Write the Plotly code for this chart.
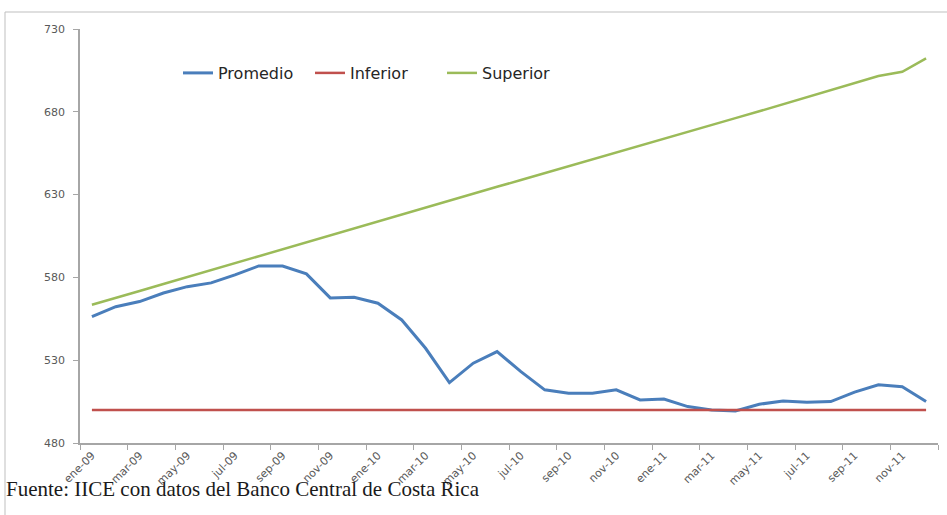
import plotly.graph_objects as go

# Months ene-09 .. dic-11
meses = ["ene", "feb", "mar", "abr", "may", "jun", "jul", "ago", "sep", "oct", "nov", "dic"]
anios = ["09", "10", "11"]
categorias = [f"{m}-{a}" for a in anios for m in meses]

promedio = [556.3, 562.3, 565.4, 570.6, 574.4, 576.7, 581.5, 586.9, 586.9, 582.1,
            567.6, 568.0, 564.4, 554.3, 537.2, 516.5, 528.2, 535.2, 523.1, 512.1,
            510.1, 510.0, 512.1, 506.0, 506.6, 502.0, 500.0, 499.4, 503.4, 505.4,
            504.6, 505.0, 510.7, 515.1, 514.0, 505.0]
inferior = [500.0] * 36
superior = [563.5, 567.5, 571.8, 576.0, 580.2, 584.5, 588.8, 593.0, 597.3, 601.4,
            605.6, 609.8, 613.9, 618.0, 622.2, 626.3, 630.5, 634.7, 638.8, 643.0,
            647.1, 651.3, 655.4, 659.6, 663.7, 667.9, 672.0, 676.2, 680.3, 684.5,
            688.7, 692.9, 697.3, 701.6, 704.2, 712.3]

y_ticks = [480, 530, 580, 630, 680, 730]

x = list(range(len(categorias)))
label_idx = x[::2]
label_txt = [categorias[i] for i in label_idx]

fig = go.Figure()
fig.add_trace(go.Scatter(x=x, y=promedio, name="Promedio", mode="lines",
                         line=dict(color="#4A7EBB", width=3)))
fig.add_trace(go.Scatter(x=x, y=inferior, name="Inferior", mode="lines",
                         line=dict(color="#C0504D", width=2.5)))
fig.add_trace(go.Scatter(x=x, y=superior, name="Superior", mode="lines",
                         line=dict(color="#9BBB59", width=2.5)))

W, H = 947, 515
L, R, T, B = 80, 9, 29, 72
pw, ph = W - L - R, H - T - B

def px_x(p):
    return (p - L) / pw

def px_y(p):
    return (H - B - p) / ph

x_font = dict(family="DejaVu Sans", size=11, color="#595959")
y_font = dict(family="DejaVu Sans", size=11, color="#595959")

fig.update_layout(
    width=W, height=H,
    margin=dict(l=L, r=R, t=T, b=B),
    plot_bgcolor="white", paper_bgcolor="white",
    showlegend=True,
    legend=dict(orientation="h", x=px_x(178), y=px_y(73), xanchor="left", yanchor="middle",
                font=dict(family="DejaVu Sans", size=16, color="#262626"),
                entrywidth=87, entrywidthmode="pixels",
                bgcolor="rgba(0,0,0,0)", tracegroupgap=0),
    xaxis=dict(range=[-0.5, 35.5], tickmode="array", tickvals=label_idx, ticktext=label_txt,
               tickangle=-45, ticks="", showgrid=False, zeroline=False,
               showline=True, linecolor="#A6A6A6", linewidth=1.5, tickfont=x_font,
               minor=dict(tickmode="linear", tick0=-0.5, dtick=2, ticks="outside",
                          ticklen=5, tickcolor="#A6A6A6", showgrid=False)),
    yaxis=dict(range=[480, 730], tickmode="array", tickvals=y_ticks,
               ticks="outside", ticklen=5, tickcolor="#A6A6A6", showgrid=False,
               zeroline=False, showline=True, linecolor="#A6A6A6", linewidth=1.5,
               tickfont=y_font, ticklabelstandoff=6),
)

# Chart frame
fig.add_shape(type="rect", xref="paper", yref="paper",
              x0=px_x(5), x1=px_x(960), y0=px_y(530), y1=px_y(12),
              line=dict(color="#BFBFBF", width=1), fillcolor="rgba(0,0,0,0)", layer="below")

fig.add_annotation(text="Fuente: IICE con datos del Banco Central de Costa Rica",
                   xref="paper", yref="paper", x=px_x(4), y=px_y(503),
                   xanchor="left", yanchor="bottom", showarrow=False,
                   font=dict(family="Liberation Serif", size=21, color="#1a1a1a"))

fig.write_html("out.html")
